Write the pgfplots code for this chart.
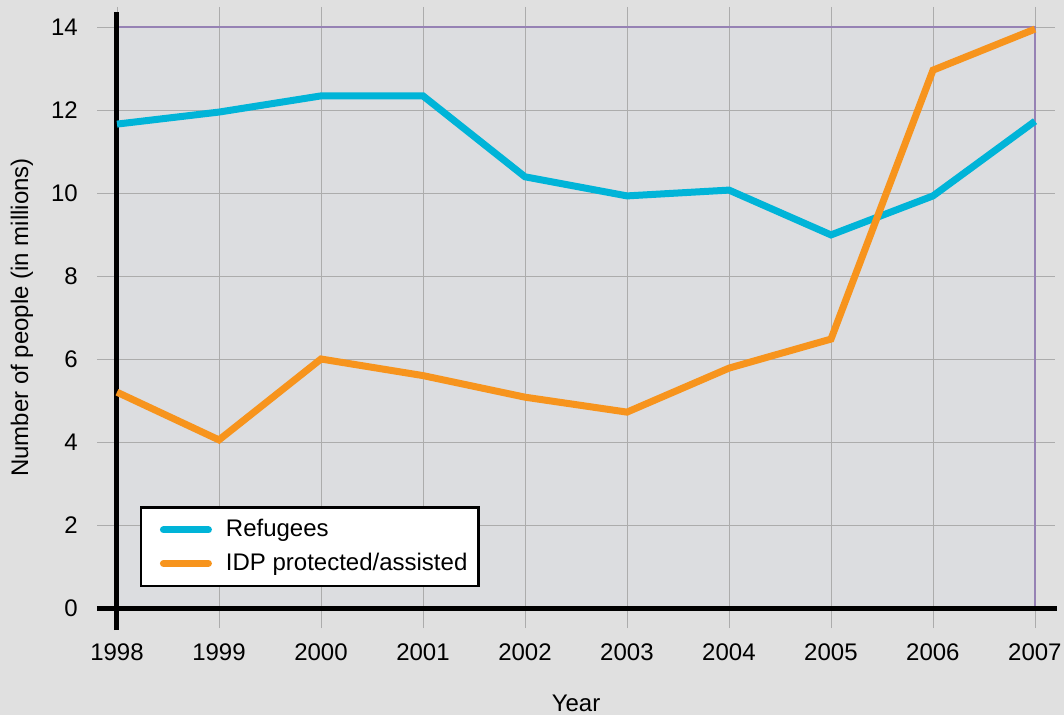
\documentclass[border=0pt]{standalone}
\usepackage{fontspec}
\setmainfont{Liberation Sans}
\usepackage{pgfplots}
\pgfplotsset{compat=1.18}
\definecolor{bgc}{RGB}{224,224,224}
\definecolor{plotc}{RGB}{220,221,224}
\definecolor{gridc}{RGB}{172,172,172}
\definecolor{axc}{RGB}{150,130,180}
\definecolor{refc}{RGB}{0,180,216}
\definecolor{idpc}{RGB}{247,148,29}
\pgfplotstableread{
year ref idp
1998 11.66 5.20
1999 11.95 4.05
2000 12.34 6.00
2001 12.34 5.60
2002 10.39 5.08
2003 9.93 4.72
2004 10.07 5.78
2005 8.99 6.48
2006 9.93 12.96
2007 11.73 13.95
}\datatable
\begin{document}
\fontsize{24}{28}\selectfont
\begin{tikzpicture}
\fill[bgc] (-117pt,-107pt) rectangle (947pt,608pt);
\useasboundingbox (-117pt,-107pt) rectangle (947pt,608pt);
\begin{axis}[at={(0,0)}, anchor=south west, scale only axis,
  width=918pt, height=581pt,
  xmin=1998, xmax=2007, ymin=0, ymax=14,
  xtick={1998,1999,...,2007}, ytick={0,2,...,14},
  /pgf/number format/assume math mode=true,
  x tick label style={/pgf/number format/1000 sep={}, yshift=-8pt},
  y tick label style={xshift=-11pt},
  ticklabel style={font=\fontsize{24}{28}\selectfont},
  axis background/.style={fill=plotc},
  grid=major, major grid style={gridc, line width=0.8pt},
  tick align=outside, tick pos=both, xticklabel pos=lower, yticklabel pos=left,
  major tick length=20pt, tick style={gridc, line width=0.8pt},
  axis line style={axc, line width=1.5pt},
  clip=false,
  xlabel={Year}, ylabel={Number of people (in millions)},
  label style={font=\fontsize{24}{28}\selectfont},
  xlabel style={at={(axis description cs:0.5,-0.1635)}, anchor=center},
  ylabel style={at={(axis description cs:-0.1035,0.5)}, anchor=center},
  legend style={at={(0.025,0.036)}, anchor=south west, draw=black, line width=2.5pt,
    fill=white, font=\fontsize{24}{28}\selectfont, inner xsep=8pt, inner ysep=9pt,
    row sep=6.5pt, nodes={inner sep=3pt}},
  legend cell align=left,
  legend image code/.code={\path[draw=none, fill=none] (-14.25pt,0pt) -- (59.5pt,0pt);
    \draw[#1, line cap=round] (0pt,0pt) -- (45pt,0pt);},
]
\draw[black, line width=5pt] ([yshift=-22pt]axis cs:1998,0) -- ([yshift=15pt]axis cs:1998,14);
\draw[black, line width=5pt] ([xshift=-20pt]axis cs:1998,0) -- ([xshift=22pt]axis cs:2007,0);
\addplot[refc, line width=7pt] table[x=year, y=ref] {\datatable};
\addlegendentry{Refugees}
\addplot[idpc, line width=7pt] table[x=year, y=idp] {\datatable};
\addlegendentry{IDP protected/assisted}
\end{axis}
\end{tikzpicture}
\end{document}
